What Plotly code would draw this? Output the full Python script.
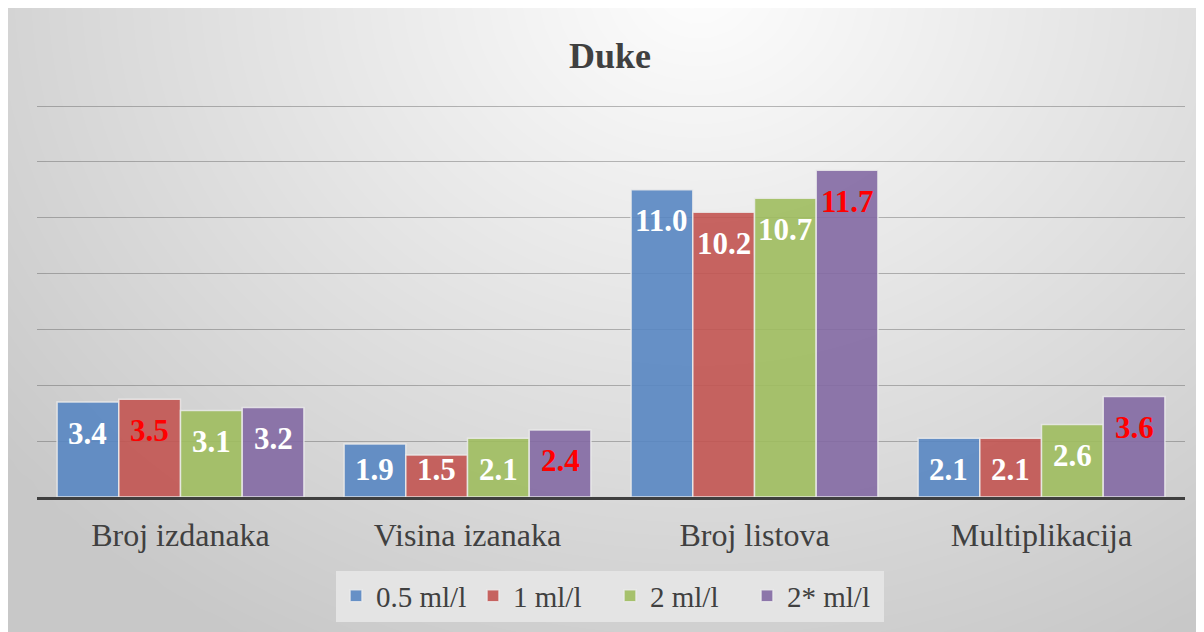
import numpy as np
import plotly.graph_objects as go

# ---------------- data ----------------
categories = ["Broj izdanaka", "Visina izanaka", "Broj listova", "Multiplikacija"]
series_names = ["0.5 ml/l", "1 ml/l", "2 ml/l", "2* ml/l"]
vals_05 = [3.4, 1.9, 11.0, 2.1]
vals_1 = [3.5, 1.5, 10.2, 2.1]
vals_2 = [3.1, 2.1, 10.7, 2.6]
vals_2s = [3.2, 2.4, 11.7, 3.6]
y_ticks = [0, 2, 4, 6, 8, 10, 12, 14]
title_text = "Duke"

series_vals = [vals_05, vals_1, vals_2, vals_2s]
bar_colors = ["rgba(88,134,194,0.9)", "rgba(194,84,81,0.9)",
              "rgba(159,188,94,0.9)", "rgba(131,105,163,0.9)"]

W, H = 1204, 632
BARGAP = 0.14
FONT = "Liberation Serif"
TXT = "#404040"

# plot-area geometry (figure pixels)
Y_BASE = 489.0
Y_TOP14 = 98.0
PX_PER_UNIT = (Y_BASE - Y_TOP14) / 14.0
Y_MAX = 14.05
y_top_px = Y_BASE - Y_MAX * PX_PER_UNIT

fig = go.Figure()

# ---------------- background radial gradient (styling only) ----------------
gx = np.linspace(0, W, 61)
gy = np.linspace(0, H, 33)
X, Y = np.meshgrid(gx, gy)
d = np.sqrt(((X - 690) / 760) ** 2 + ((Y + 20) / 640) ** 2)
Z = np.clip(253 - 45 * d, 200, 252)
fig.add_trace(go.Heatmap(
    x=gx, y=gy, z=Z, zmin=195, zmax=252, zsmooth="best",
    colorscale=[[0, "rgb(195,195,195)"], [1, "rgb(252,252,252)"]],
    showscale=False, hoverinfo="skip", xaxis="x", yaxis="y"))

# ---------------- bars ----------------
for name, vals, col in zip(series_names, series_vals, bar_colors):
    fig.add_trace(go.Bar(
        name=name, x=categories, y=vals, xaxis="x2", yaxis="y2",
        marker=dict(color=col, line=dict(color="rgba(235,235,235,0.85)", width=1.5)),
        hoverinfo="skip"))

# ---------------- value labels ----------------
n = len(series_vals)
bw = (1 - BARGAP) / n
annotations = []
for i, cat in enumerate(categories):
    group = [s[i] for s in series_vals]
    gmax = max(group)
    for k, vals in enumerate(series_vals):
        v = vals[i]
        shift = min(31.0, (v - 0.97) * PX_PER_UNIT)
        annotations.append(dict(
            x=i + (k - (n - 1) / 2) * bw, y=v, xref="x2", yref="y2",
            text=f"{v:.1f}", showarrow=False, yshift=-shift,
            font=dict(family=FONT, size=31, weight="bold",
                      color="#ff0000" if v == gmax else "#ffffff")))

fig.update_layout(
    width=W, height=H,
    margin=dict(l=0, r=0, t=0, b=0),
    paper_bgcolor="#d4d4d4",
    plot_bgcolor="rgba(0,0,0,0)",
    barmode="group", bargap=BARGAP, bargroupgap=0,
    showlegend=True,
    title=dict(text=title_text, x=0.5, xref="paper", y=1 - 47 / H, yref="paper",
               xanchor="center", yanchor="middle",
               font=dict(family=FONT, size=36, weight="bold", color=TXT)),
    xaxis=dict(domain=[0, 1], range=[0, W], visible=False, fixedrange=True),
    yaxis=dict(domain=[0, 1], range=[H, 0], visible=False, fixedrange=True),
    xaxis2=dict(domain=[29 / W, 1177 / W], anchor="y2", range=[-0.5, 3.5],
                showgrid=False, zeroline=False, showline=True,
                linecolor="#3f3f3f", linewidth=3, ticks="",
                ticklabelstandoff=8,
                tickfont=dict(family=FONT, size=32, color=TXT)),
    yaxis2=dict(domain=[(H - Y_BASE) / H, (H - y_top_px) / H], anchor="x2",
                range=[0, Y_MAX], tickvals=y_ticks, showticklabels=False,
                showgrid=True, gridcolor="rgba(80,80,80,0.38)", gridwidth=1,
                zeroline=False, showline=False),
    legend=dict(orientation="h", x=0.5, xanchor="center",
                y=(H - 588) / H, yanchor="middle",
                entrywidth=92, entrywidthmode="pixels",
                bgcolor="#e4e4e4", font=dict(family=FONT, size=29, color=TXT),
                itemclick=False, itemdoubleclick=False),
    annotations=annotations,
)

fig.write_html("out.html")
